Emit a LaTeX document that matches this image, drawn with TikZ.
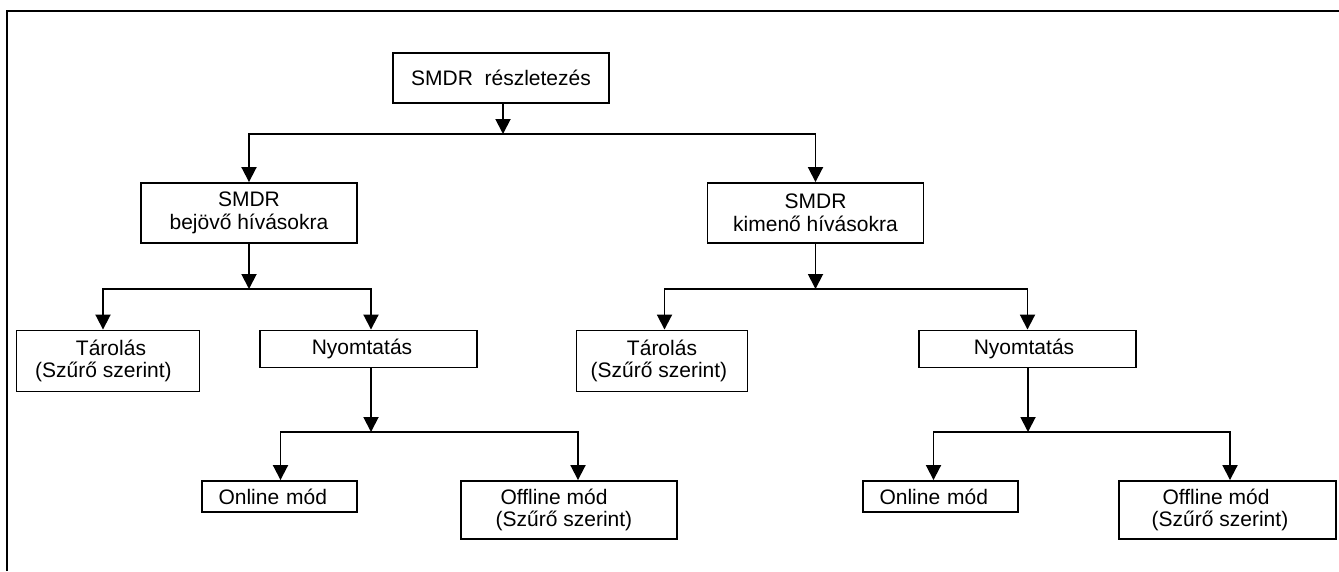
\documentclass[tikz,border=0pt]{standalone}
\usepackage{fontspec}
\setmainfont{Liberation Sans}
\usetikzlibrary{arrows.meta}

\tikzset{
  box/.style={draw, line width=1.9pt, inner sep=0pt, align=center, font=\fontsize{21}{22.5}\selectfont},
  modebox/.style={box, minimum width=155, minimum height=31, text width=122, align=left},
  arr/.style={-{Triangle[length=15pt,width=15pt]}, line width=1.9pt}
}
% pad a line on the right to pull centred text to the left
\newcommand{\lpad}[1]{\hspace*{#1pt}}

\begin{document}
\begin{tikzpicture}[x=1pt,y=-1pt]
  \useasboundingbox (0,0) rectangle (1339,571);
  \draw[line width=2pt] (7,571) -- (7,11) -- (1339,11);

  % boxes
  \node[box, minimum width=216, minimum height=50] (root) at (501,78) {SMDR\ \ részletezés};
  \node[box, minimum width=216, minimum height=60] (bejovo) at (249,213) {SMDR\\bejövő hívásokra};
  \node[box, minimum width=216, minimum height=60] (kimeno) at (815.5,213) {SMDR\\kimenő hívásokra};
  \node[box, minimum width=183, minimum height=61] (tarolasA) at (108,361) {\hspace*{6pt}Tárolás\\(Szűrő szerint)\lpad{9}};
  \node[box, minimum width=217, minimum height=37] (nyomtA) at (368.5,349) {Nyomtatás\lpad{13}};
  \node[box, minimum width=171, minimum height=61] (tarolasB) at (662,361) {Tárolás\\(Szűrő szerint)\lpad{6}};
  \node[box, minimum width=217, minimum height=37] (nyomtB) at (1027.5,349) {Nyomtatás\lpad{7}};
  \node[modebox] (onlineA) at (279.5,496.5) {Online mód};
  \node[box, minimum width=216, minimum height=58] (offlineA) at (569,510) {Offline mód\lpad{30}\\(Szűrő szerint)\lpad{10}};
  \node[modebox] (onlineB) at (940.5,496.5) {Online mód};
  \node[box, minimum width=217, minimum height=58] (offlineB) at (1227.5,510) {Offline mód\lpad{23}\\(Szűrő szerint)\lpad{15}};

  % junctions
  \coordinate (j0) at (503,134);
  \coordinate (jA) at (249,289); \coordinate (jB) at (815.5,289);
  \coordinate (jA2) at (371,432); \coordinate (jB2) at (1028,432);

  % connectors
  \draw[arr] (root.south -| j0) -- (j0);
  \draw[arr] (j0) -| (bejovo); \draw[arr] (j0) -| (kimeno);
  \draw[arr] (bejovo) -- (jA);
  \draw[arr] (jA) -| ([xshift=-5pt]tarolasA.north); \draw[arr] (jA) -| ([xshift=2.5pt]nyomtA.north);
  \draw[arr] (kimeno) -- (jB);
  \draw[arr] (jB) -| ([xshift=2.5pt]tarolasB.north); \draw[arr] (jB) -| (nyomtB);
  \draw[arr] (nyomtA.south -| jA2) -- (jA2);
  \draw[arr] (jA2) -| ([xshift=1pt]onlineA.north); \draw[arr] (jA2) -| ([xshift=9pt]offlineA.north);
  \draw[arr] (nyomtB.south -| jB2) -- (jB2);
  \draw[arr] (jB2) -| ([xshift=-7pt]onlineB.north); \draw[arr] (jB2) -| ([xshift=2.5pt]offlineB.north);
\end{tikzpicture}
\end{document}
